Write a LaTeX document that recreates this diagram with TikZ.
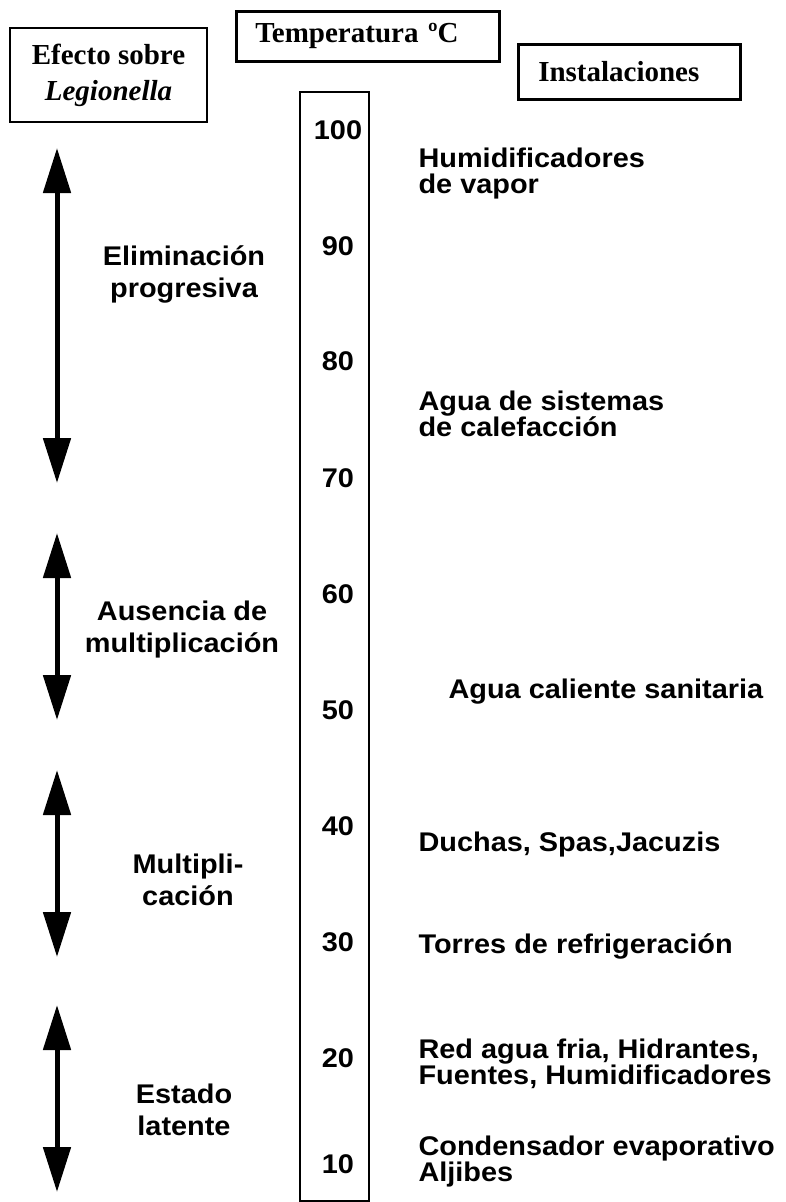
\documentclass[tikz,border=0pt]{standalone}
\usepackage{fontspec}
\setmainfont{Liberation Serif}
\newfontfamily\rotulo[FakeStretch=1.07]{Liberation Sans}
\usetikzlibrary{arrows.meta}

\tikzset{
  caja/.style={draw, line width=2.5pt, font=\fontsize{29}{36}\selectfont\bfseries},
  efecto/.style={font=\rotulo\fontsize{27}{32}\selectfont\bfseries, align=center},
  instal/.style={font=\rotulo\fontsize{27}{26}\selectfont\bfseries, align=left, anchor=west},
  grado/.style={font=\rotulo\fontsize{27}{27}\selectfont\bfseries},
  rango/.style={{Triangle[length=45pt,width=27pt]}-{Triangle[length=45pt,width=27pt]}, line width=5pt},
}

\begin{document}
\begin{tikzpicture}[x=1pt,y=-1pt]
\useasboundingbox (0,0) rectangle (785,1202);

% Cabeceras
\node[caja, minimum width=197pt, minimum height=94pt, align=center] (efecto) at (108.5,75) {Efecto sobre\\\textit{Legionella}};
\node[caja, anchor=north west, minimum height=50pt, text width=225pt, inner xsep=19pt, align=left] (temp) at (235,10) {Temperatura ºC};
\node[caja, anchor=north west, minimum height=55pt, text width=182pt, inner xsep=20pt, align=left] (instal) at (517,43) {Instalaciones};

% Escala de temperaturas
\node[draw, line width=2pt, anchor=north west, minimum width=69pt, minimum height=1109pt, inner sep=0pt] (escala) at (299,91) {};
\foreach \t/\y in {100/130,90/246,80/361,70/478,60/594,50/710,40/826,30/942,20/1058,10/1164} {
  \node[grado] (t\t) at (338,\y) {\t};
}

% Efecto sobre Legionella
\coordinate (a1) at (57,148);
\coordinate (b1) at (57,483);
\coordinate (a2) at (57,533);
\coordinate (b2) at (57,720);
\coordinate (a3) at (57,770);
\coordinate (b3) at (57,957);
\coordinate (a4) at (57,1005);
\coordinate (b4) at (57,1192);
\foreach \i in {1,...,4} {
  \draw[rango] (a\i) -- (b\i);
}
\node[efecto] (elim) at (184,274) {Eliminación\\progresiva};
\node[efecto] (ausen) at (182,630) {Ausencia de\\multiplicación};
\node[efecto] (multi) at (188,880) {Multipli-\\cación};
\node[efecto] (latente) at (184,1110) {Estado\\latente};

% Instalaciones
\node[instal] (vapor) at (415,174) {Humidificadores\\de vapor};
\node[instal] (calef) at (415,414) {Agua de sistemas\\de calefacción};
\node[instal] (acs) at (445,692) {Agua caliente sanitaria};
\node[instal] (duchas) at (415,845) {Duchas, Spas,Jacuzis};
\node[instal] (torres) at (415,946) {Torres de refrigeración};
\node[instal] (red) at (415,1064) {Red agua fria, Hidrantes,\\Fuentes, Humidificadores};
\node[instal] (cond) at (415,1162) {Condensador evaporativo\\Aljibes};
\end{tikzpicture}
\end{document}
